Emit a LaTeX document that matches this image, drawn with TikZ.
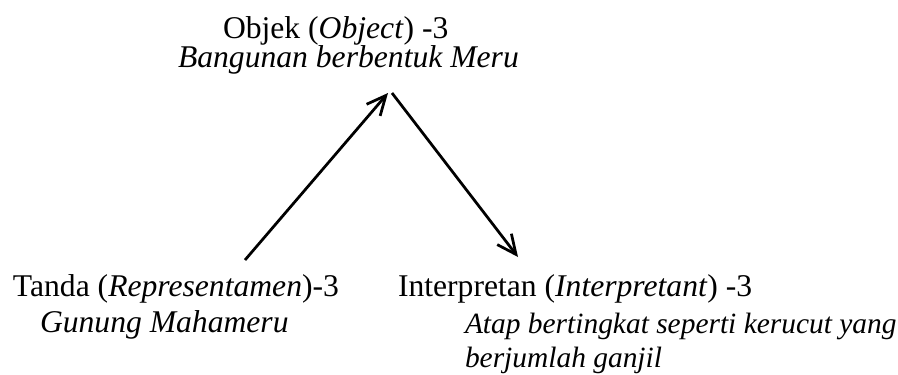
\documentclass[tikz,border=0pt]{standalone}
\usepackage{fontspec}
\setmainfont{Liberation Serif}
\usetikzlibrary{arrows.meta}
\begin{document}
\begin{tikzpicture}[x=0.3636pt,y=-0.3636pt,
  lbl/.style={anchor=base west,inner sep=0pt,outer sep=0pt,font=\fontsize{11.5}{14}\selectfont},
  note/.style={lbl,font=\fontsize{10.7}{13}\selectfont\itshape},
  arr/.style={line width=1pt,-{Straight Barb[length=7pt,width=6.5pt,line width=1pt]}}]
\useasboundingbox (0,0) rectangle (898,374);
% top vertex: object
\node[lbl] (obj) at (223,38) {Objek (\textit{Object}) -3};
\node[lbl] (objd) at (178,67) {\textit{Bangunan berbentuk Meru}};
% bottom left: sign
\node[lbl] (tanda) at (13,296) {Tanda (\textit{Representamen})-3};
\node[lbl] (tandad) at (40,332) {\textit{Gunung Mahameru}};
% bottom right: interpretant
\node[lbl] (interp) at (398,296) {Interpretan (\textit{Interpretant}) -3};
\node[note] (interpd1) at (465,333) {Atap bertingkat seperti kerucut yang};
\node[note] (interpd2) at (465,367) {berjumlah ganjil};
% connector end points
\coordinate (a-start) at (245,260);
\coordinate (a-end) at (388,93);
\coordinate (b-start) at (392,93);
\coordinate (b-end) at (518,257);
\draw[arr] (a-start) -- (a-end);
\draw[arr] (b-start) -- (b-end);
\end{tikzpicture}
\end{document}
